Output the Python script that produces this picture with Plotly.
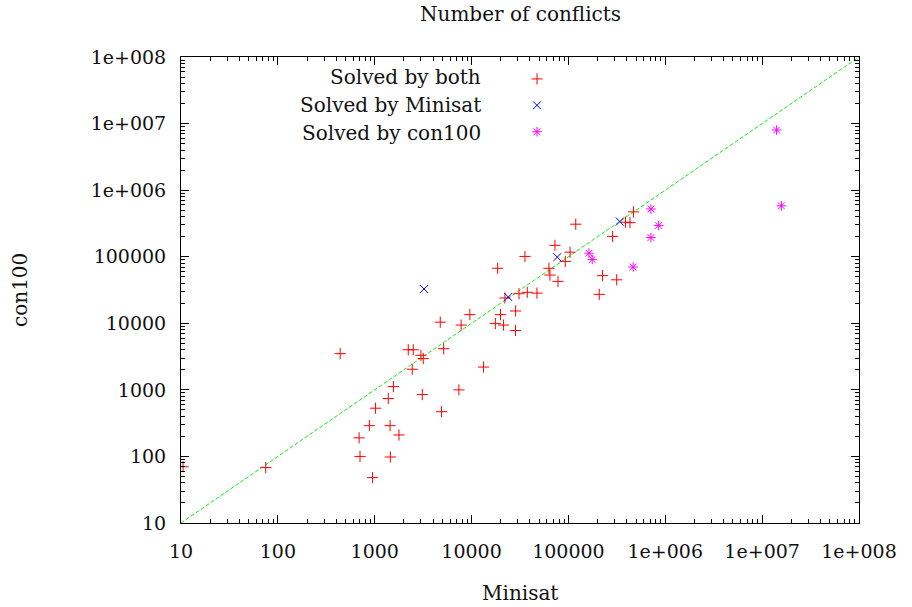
import plotly.graph_objects as go

# Solved by both (Minisat, con100)
both_x = [10.5, 75, 440, 690, 705, 880, 950, 1020, 1380, 1440, 1450, 1560, 1780,
          2220, 2500, 2440, 3000, 3170, 3100, 4750, 4900, 5150, 7400, 7800, 9600,
          13300, 17600, 19900, 21400, 28400, 28500, 18600, 22100, 30900, 35600,
          37600, 47300, 63000, 64500, 72600, 78000, 92800, 104000, 119000, 208000,
          225000, 286000, 315000, 388000, 432000, 470000]
both_y = [70, 68, 3500, 190, 100, 290, 48, 530, 740, 290, 98, 1120, 210,
          4000, 4000, 2040, 3300, 2950, 850, 10400, 470, 4150, 1000, 9400, 13500,
          2200, 9900, 13500, 9400, 7800, 15300, 67000, 24000, 27800, 101000,
          29200, 28400, 67000, 53000, 148000, 42600, 85000, 117000, 308000, 27200,
          52000, 202000, 45000, 330000, 325000, 472000]

# Solved by Minisat only
mini_x = [3230, 23900, 76700, 339000]
mini_y = [32700, 24800, 98600, 337000]

# Solved by con100 only
con_x = [163000, 176000, 466000, 711000, 855000, 711000, 14100000, 15800000]
con_y = [113000, 91000, 70000, 521000, 295000, 194000, 8000000, 581000]

diag = [10, 1e8]

tick_vals = [10, 100, 1000, 10000, 100000, 1e6, 1e7, 1e8]
tick_text = ["10", "100", "1000", "10000", "100000", "1e+006", "1e+007", "1e+008"]
legend_labels = ["Solved by both", "Solved by Minisat", "Solved by con100"]

FONT = "DejaVu Serif"
TXT = "#111"

fig = go.Figure()
fig.add_trace(go.Scatter(x=diag, y=diag, mode="lines", showlegend=False,
                         line=dict(color="#11ee11", width=1, dash="4px,2px")))
fig.add_trace(go.Scatter(x=both_x, y=both_y, mode="markers", name=" ",
                         marker=dict(symbol="cross-thin-open", size=8, color="#ff0000",
                                     line=dict(color="#ff0000", width=1))))
fig.add_trace(go.Scatter(x=mini_x, y=mini_y, mode="markers", name=" ",
                         marker=dict(symbol="x-thin-open", size=8, color="#0000ff",
                                     line=dict(color="#0000ff", width=1))))
fig.add_trace(go.Scatter(x=con_x, y=con_y, mode="markers", name=" ",
                         marker=dict(symbol="asterisk-open", size=8, color="#ff00ff",
                                     line=dict(color="#ff00ff", width=1))))

axis_common = dict(
    type="log", range=[1, 8], tickvals=tick_vals, ticktext=tick_text, ticks="inside",
    ticklen=8, tickwidth=1, tickcolor="black", showline=True, linecolor="black",
    linewidth=1, mirror="ticks", showgrid=False, zeroline=False,
    tickfont=dict(family=FONT, size=19, color=TXT),
    minor=dict(ticks="inside", ticklen=4, tickcolor="black", dtick="D1", showgrid=False),
)

fig.update_layout(
    width=912, height=607,
    margin=dict(l=181, r=53, t=57, b=84),
    paper_bgcolor="white", plot_bgcolor="white",
    font=dict(family=FONT, size=20, color=TXT),
    showlegend=True,
    xaxis=dict(ticklabelstandoff=11, **axis_common),
    yaxis=dict(ticklabelstandoff=10, **axis_common),
    legend=dict(x=0.4956, y=0.992, xanchor="left", yanchor="top", bgcolor="rgba(0,0,0,0)",
                font=dict(family=FONT, size=18), itemwidth=30, tracegroupgap=0),
)

fig.add_annotation(text="Number of conflicts", xref="paper", yref="paper", x=0.5, y=1.0923,
                   xanchor="center", yanchor="middle", showarrow=False,
                   font=dict(family=FONT, size=20, color=TXT))
fig.add_annotation(text="Minisat", xref="paper", yref="paper", x=0.5, y=-0.150,
                   xanchor="center", yanchor="middle", showarrow=False,
                   font=dict(family=FONT, size=20, color=TXT))
fig.add_annotation(text="con100", xref="paper", yref="paper", x=-0.2375, y=0.5,
                   xanchor="center", yanchor="middle", showarrow=False, textangle=-90,
                   font=dict(family=FONT, size=20, color=TXT))

for i, lab in enumerate(legend_labels):
    fig.add_annotation(text=lab, xref="paper", yref="paper", x=0.4454, y=0.957 - i * 0.06,
                       xanchor="right", yanchor="middle", showarrow=False,
                       font=dict(family=FONT, size=20, color=TXT))

fig.write_html("out.html", config={"displayModeBar": False},
               post_script="document.body.style.margin='0';")
